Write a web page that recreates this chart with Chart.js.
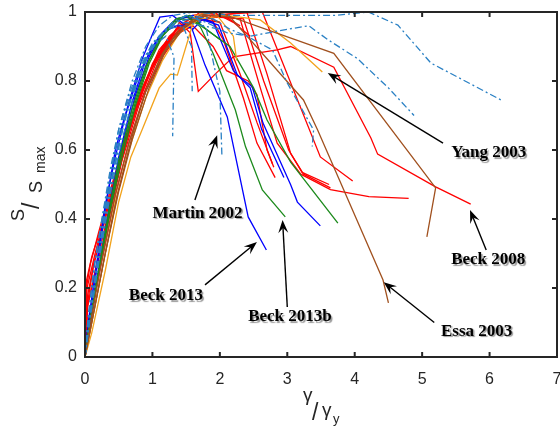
<!DOCTYPE html>
<html>
<head>
<meta charset="utf-8">
<script src="https://cdn.jsdelivr.net/npm/chart.js@4.4.1/dist/chart.umd.min.js"></script>
<style>
  html, body { margin: 0; padding: 0; background: #fff; }
  #wrap { width: 560px; height: 427px; }
</style>
</head>
<body>
<div id="wrap"><canvas id="shear" width="560" height="427"></canvas></div>
<script>
// Normalised shear strength S/Smax against normalised deformation γ/γy
const xTicks = [0, 1, 2, 3, 4, 5, 6, 7];
const yTicks = [0, 0.2, 0.4, 0.6, 0.8, 1];

// test curves, [γ/γy, S/Smax]
const beck2013 = [[0,0],[0.05,0.08],[0.15,0.22],[0.3,0.43],[0.45,0.6],[0.52,0.65],[0.7,0.77],[0.84,0.86],[1.01,0.94],[1.11,0.985],[1.3,0.99],[1.5,0.96],[1.58,0.955],[1.78,0.846],[2.11,0.696],[2.42,0.406],[2.69,0.31]];
const blueB = [[0,0],[0.06,0.07],[0.2,0.25],[0.35,0.42],[0.5,0.58],[0.7,0.74],[0.9,0.86],[1.1,0.93],[1.3,0.97],[1.5,0.985],[1.7,0.98],[1.98,0.962],[2.26,0.817],[2.48,0.783],[2.64,0.678],[3.05,0.499],[3.15,0.449],[3.49,0.38]];
const blueC = [[0,0],[0.07,0.08],[0.22,0.27],[0.38,0.45],[0.55,0.61],[0.75,0.76],[0.95,0.87],[1.15,0.94],[1.35,0.98],[1.6,0.99],[1.9,0.97],[2.2,0.83],[2.45,0.78],[2.62,0.66],[2.95,0.52]];
const blueD = [[0,0],[0.04,0.09],[0.15,0.24],[0.3,0.44],[0.45,0.58],[0.6,0.7],[0.8,0.82],[1.0,0.9],[1.15,0.94],[1.35,0.96],[1.5,0.96],[1.6,0.95],[1.75,0.98]];

const ddTop = [[0,0],[0.05,0.1],[0.2,0.3],[0.35,0.5],[0.5,0.66],[0.7,0.8],[0.9,0.9],[1.1,0.96],[1.3,0.99],[1.6,1.0],[2.2,0.99],[3.2,0.99],[3.7,0.99],[4.1,0.998],[4.2,1.0],[4.64,0.962],[5.13,0.852],[6.17,0.745]];
const ddB = [[0,0],[0.05,0.09],[0.2,0.28],[0.3,0.42],[0.45,0.56],[0.6,0.7],[0.8,0.83],[1.0,0.91],[1.3,0.97],[1.5,0.99],[1.8,0.97],[2.1,0.94],[2.45,0.93],[3.0,0.95],[3.32,0.96],[3.6,0.92],[4.04,0.865],[4.5,0.78],[4.88,0.7]];
const ddC = [[0,0],[0.08,0.12],[0.25,0.33],[0.4,0.5],[0.55,0.63],[0.75,0.78],[0.95,0.88],[1.2,0.95],[1.5,0.99],[1.9,0.98],[2.15,0.95],[2.4,0.93],[2.78,0.89],[3.0,0.794],[3.39,0.658],[3.37,0.61]];
const martin2002 = [[0,0],[0.06,0.1],[0.2,0.3],[0.35,0.48],[0.5,0.62],[0.7,0.76],[0.9,0.87],[1.1,0.93],[1.35,0.97],[1.65,0.985],[1.8,0.95],[1.93,0.83],[2.0,0.77],[2.03,0.585]];
const ddE = [[0,0],[0.05,0.12],[0.15,0.28],[0.3,0.45],[0.45,0.6],[0.6,0.72],[0.8,0.83],[1.0,0.9],[1.2,0.93],[1.32,0.87],[1.3,0.64]];
const ddF = [[0,0],[0.07,0.11],[0.22,0.3],[0.4,0.52],[0.6,0.7],[0.8,0.82],[1.0,0.9],[1.2,0.95],[1.45,0.96],[1.58,0.9],[1.59,0.77]];
const ddG = [[0,0],[0.04,0.1],[0.12,0.24],[0.25,0.4],[0.38,0.55],[0.5,0.66],[0.65,0.76],[0.85,0.86],[1.05,0.92],[1.3,0.96],[1.5,0.97],[1.75,0.96],[2.0,0.95]];

const beck2008 = [[0,0],[0.04,0.18],[0.12,0.26],[0.3,0.4],[0.5,0.55],[0.7,0.68],[0.9,0.8],[1.1,0.88],[1.3,0.93],[1.4,0.97],[1.56,0.94],[1.68,0.77],[1.93,0.82],[2.2,0.87],[2.85,0.89],[3.05,0.9],[3.69,0.84],[4.24,0.635],[4.34,0.588],[5.2,0.493],[5.72,0.443]];
const redB = [[0,0],[0.05,0.1],[0.2,0.25],[0.4,0.45],[0.6,0.62],[0.85,0.78],[1.1,0.89],[1.4,0.96],[1.8,0.99],[2.2,0.995],[2.63,1.0],[3.49,0.58],[3.97,0.51]];
const redC = [[0,0],[0.03,0.2],[0.15,0.3],[0.35,0.45],[0.55,0.6],[0.8,0.75],[1.05,0.86],[1.3,0.93],[1.6,0.97],[2.0,0.99],[2.4,1.0],[2.7,0.82],[3.05,0.59],[3.24,0.53],[3.64,0.49]];
const redD = [[0,0],[0.04,0.16],[0.13,0.27],[0.32,0.42],[0.52,0.58],[0.78,0.74],[1.02,0.85],[1.28,0.92],[1.58,0.97],[1.95,0.985],[2.35,0.98],[2.65,0.8],[3.02,0.6],[3.22,0.535],[3.62,0.5]];
const redE = [[0,0],[0.06,0.1],[0.25,0.3],[0.45,0.5],[0.65,0.65],[0.9,0.8],[1.15,0.9],[1.45,0.96],[1.8,0.99],[2.3,0.98],[2.6,0.78],[2.85,0.62],[3.2,0.53],[3.64,0.485],[4.21,0.465],[4.8,0.46]];
const redF = [[0,0],[0.04,0.15],[0.15,0.25],[0.3,0.38],[0.5,0.55],[0.75,0.72],[1.0,0.85],[1.25,0.93],[1.55,0.98],[1.85,0.99],[2.05,0.92],[2.35,0.75],[2.55,0.62],[2.82,0.52]];
const redG = [[0,0],[0.07,0.1],[0.25,0.28],[0.45,0.47],[0.65,0.62],[0.9,0.77],[1.15,0.87],[1.4,0.94],[1.7,0.98],[2.0,0.97],[2.3,0.82],[2.55,0.68],[2.78,0.56]];
const redH = [[0,0],[0.02,0.22],[0.1,0.29],[0.28,0.4],[0.48,0.54],[0.72,0.7],[0.98,0.83],[1.2,0.91],[1.3,0.93],[1.6,0.96],[1.9,0.9],[2.1,0.83],[2.42,0.8],[2.55,0.76],[2.7,0.6],[2.8,0.55]];
const redI = [[0,0],[0.02,0.2],[0.08,0.27],[0.2,0.36],[0.4,0.5],[0.6,0.63],[0.85,0.78],[1.1,0.88],[1.35,0.95],[1.6,0.99],[1.9,1.0],[2.2,0.97],[2.45,0.93]];
const redJ = [[0,0],[0.03,0.14],[0.15,0.24],[0.35,0.4],[0.55,0.57],[0.8,0.73],[1.05,0.85],[1.3,0.93],[1.55,0.97],[1.7,1.0],[2.05,0.99],[2.3,0.96]];

const beck2013b = [[0,0],[0.05,0.08],[0.2,0.25],[0.35,0.42],[0.5,0.57],[0.7,0.72],[0.9,0.84],[1.1,0.92],[1.3,0.97],[1.5,0.99],[1.71,0.957],[1.9,0.88],[2.23,0.716],[2.38,0.61],[2.63,0.484],[2.97,0.406]];
const greenB = [[0,0],[0.06,0.09],[0.22,0.27],[0.38,0.44],[0.55,0.6],[0.75,0.74],[0.95,0.86],[1.15,0.93],[1.4,0.98],[1.6,0.977],[2.15,0.9],[2.5,0.78],[2.7,0.687],[3.05,0.565],[3.75,0.388]];
const greenC = [[0,0],[0.05,0.07],[0.2,0.24],[0.38,0.43],[0.55,0.58],[0.75,0.73],[0.95,0.85],[1.15,0.93],[1.35,0.98],[1.55,0.99],[1.8,0.95],[2.0,0.92]];

const yang2003 = [[0,0],[0.08,0.08],[0.25,0.25],[0.45,0.45],[0.65,0.6],[0.9,0.75],[1.15,0.86],[1.4,0.94],[1.7,0.98],[2.1,0.99],[2.6,0.977],[3.05,0.91],[3.52,0.826]];
const orangeB = [[0,0],[0.1,0.07],[0.3,0.25],[0.5,0.45],[0.68,0.58],[0.85,0.66],[1.1,0.78],[1.27,0.82],[1.37,0.817],[1.56,0.94],[1.63,0.99],[1.9,1.0],[2.0,0.98],[2.2,0.93],[2.25,0.86]];

const essa2003 = [[0,0],[0.08,0.08],[0.3,0.3],[0.5,0.48],[0.7,0.63],[0.95,0.78],[1.2,0.89],[1.5,0.96],[1.8,0.99],[2.15,0.986],[3.24,0.745],[3.45,0.658],[4.42,0.223],[4.5,0.157]];
const brownB = [[0,0],[0.07,0.09],[0.25,0.28],[0.45,0.47],[0.65,0.62],[0.9,0.77],[1.15,0.88],[1.4,0.95],[1.7,0.99],[1.96,1.0],[3.69,0.88],[5.2,0.49],[5.07,0.348]];
const brownC = [[0,0],[0.08,0.08],[0.28,0.28],[0.48,0.47],[0.7,0.64],[0.9,0.77],[1.1,0.86],[1.3,0.92],[1.5,0.96],[1.75,0.99],[2.0,0.97]];

// callouts: label, label anchor (left, middle), arrow tail, arrow tip
const callouts = [
  ['Yang 2003',   [5.43, 0.591], [5.31, 0.62],  [3.6, 0.823]],
  ['Martin 2002', [1.0, 0.417],  [1.63, 0.455], [1.96, 0.643]],
  ['Beck 2013',   [0.65, 0.177], [1.78, 0.209], [2.55, 0.333]],
  ['Beck 2013b',  [2.42, 0.116], [3.0, 0.145],  [2.93, 0.397]],
  ['Beck 2008',   [5.43, 0.281], [5.95, 0.31],  [5.71, 0.426]],
  ['Essa 2003',   [5.28, 0.075], [5.18, 0.10],  [4.43, 0.217]]
];

const BLUE = '#0000ff', DD = '#2a80c4', RED = '#ff0000', GREEN = '#1c8a1c', ORANGE = '#f2a31c', BROWN = '#a0501e';
const DASHDOT = [7, 3, 2, 3];

const series = [
  [ddTop, DD, DASHDOT], [ddB, DD, DASHDOT], [ddC, DD, DASHDOT], [martin2002, DD, DASHDOT],
  [ddE, DD, DASHDOT], [ddF, DD, DASHDOT], [ddG, DD, DASHDOT],
  [essa2003, BROWN], [brownB, BROWN], [brownC, BROWN],
  [yang2003, ORANGE], [orangeB, ORANGE],
  [beck2013b, GREEN], [greenB, GREEN], [greenC, GREEN],
  [beck2013, BLUE], [blueB, BLUE], [blueC, BLUE], [blueD, BLUE],
  [beck2008, RED], [redB, RED], [redC, RED], [redD, RED], [redE, RED],
  [redF, RED], [redG, RED], [redH, RED], [redI, RED], [redJ, RED]
];

const AXIS = '#262626';

const frame = {
  id: 'frame',
  afterDatasetsDraw(chart) {
    const { ctx, chartArea: a, scales: { x, y } } = chart;
    ctx.save();
    ctx.strokeStyle = AXIS;
    ctx.lineWidth = 2;
    ctx.beginPath();
    xTicks.forEach(v => {
      const px = x.getPixelForValue(v);
      ctx.moveTo(px, a.bottom); ctx.lineTo(px, a.bottom - 5);
      ctx.moveTo(px, a.top); ctx.lineTo(px, a.top + 5);
    });
    yTicks.forEach(v => {
      const py = y.getPixelForValue(v);
      ctx.moveTo(a.left, py); ctx.lineTo(a.left + 5, py);
      ctx.moveTo(a.right, py); ctx.lineTo(a.right - 5, py);
    });
    ctx.stroke();
    ctx.strokeRect(a.left, a.top, a.right - a.left, a.bottom - a.top);

    // callouts
    callouts.forEach(([text, at, tail, tip]) => {
      const tx = x.getPixelForValue(tail[0]), ty = y.getPixelForValue(tail[1]);
      const hx = x.getPixelForValue(tip[0]), hy = y.getPixelForValue(tip[1]);
      const ang = Math.atan2(hy - ty, hx - tx);
      const L = 13, W = 5;
      const c = Math.cos(ang), s = Math.sin(ang);
      ctx.strokeStyle = '#000';
      ctx.lineWidth = 1.4;
      ctx.beginPath();
      ctx.moveTo(tx, ty);
      ctx.lineTo(hx - c * 7, hy - s * 7);
      ctx.stroke();
      ctx.fillStyle = '#000';
      ctx.beginPath();
      ctx.moveTo(hx, hy);
      ctx.lineTo(hx - c * L - s * W, hy - s * L + c * W);
      ctx.lineTo(hx - c * 8, hy - s * 8);
      ctx.lineTo(hx - c * L + s * W, hy - s * L - c * W);
      ctx.closePath();
      ctx.fill();

      ctx.save();
      ctx.font = 'bold 17px "Liberation Serif", serif';
      ctx.textBaseline = 'middle';
      ctx.textAlign = 'left';
      ctx.shadowColor = 'rgba(0,0,0,0.4)';
      ctx.shadowOffsetX = 1.5;
      ctx.shadowOffsetY = 1.5;
      ctx.shadowBlur = 1;
      ctx.fillStyle = '#000';
      ctx.fillText(text, x.getPixelForValue(at[0]), y.getPixelForValue(at[1]));
      ctx.restore();
    });

    // axis titles, written as stacked fractions
    ctx.fillStyle = AXIS;
    ctx.textAlign = 'left';
    ctx.textBaseline = 'alphabetic';
    ctx.font = '19px "Liberation Sans", Arial, sans-serif';
    ctx.fillText('γ', 303, 401);
    ctx.font = '23px "Liberation Sans", Arial, sans-serif';
    ctx.fillText('/', 312, 420);
    ctx.font = '19px "Liberation Sans", Arial, sans-serif';
    ctx.fillText('γ', 322, 416);
    ctx.font = '13px "Liberation Sans", Arial, sans-serif';
    ctx.fillText('y', 333, 423);

    ctx.translate(0, 0);
    ctx.rotate(-Math.PI / 2);
    ctx.font = '18px "Liberation Sans", Arial, sans-serif';
    ctx.fillText('S', -221, 24);
    ctx.font = '23px "Liberation Sans", Arial, sans-serif';
    ctx.fillText('/', -209, 39);
    ctx.font = '18px "Liberation Sans", Arial, sans-serif';
    ctx.fillText('S', -193, 42);
    ctx.font = '14px "Liberation Sans", Arial, sans-serif';
    ctx.fillText('max', -173, 45);
    ctx.restore();
  }
};

new Chart(document.getElementById('shear'), {
  type: 'scatter',
  data: {
    datasets: series.map(([pts, color, dash]) => ({
      data: pts.map(([x, y]) => ({ x, y })),
      showLine: true,
      borderColor: color,
      borderWidth: 1.3,
      borderDash: dash || [],
      pointRadius: 0,
      tension: 0,
      fill: false
    }))
  },
  options: {
    responsive: false,
    animation: false,
    devicePixelRatio: 1,
    layout: { padding: { left: 0, right: 3, top: 12, bottom: 0 } },
    plugins: { legend: { display: false }, tooltip: { enabled: false } },
    scales: {
      x: {
        type: 'linear', min: 0, max: 7,
        grid: { display: false, drawTicks: false },
        border: { display: false },
        afterFit(s) { s.height = 70; s.paddingLeft = 0; s.paddingRight = 0; },
        afterBuildTicks(s) { s.ticks = xTicks.map(v => ({ value: v })); },
        ticks: { padding: 13, color: AXIS, font: { family: '"Liberation Sans", Arial, sans-serif', size: 16 } }
      },
      y: {
        type: 'linear', min: 0, max: 1,
        grid: { display: false, drawTicks: false },
        border: { display: false },
        afterFit(s) { s.width = 85; s.paddingTop = 0; s.paddingBottom = 0; },
        afterBuildTicks(s) { s.ticks = yTicks.map(v => ({ value: v })); },
        ticks: { padding: 8, color: AXIS, font: { family: '"Liberation Sans", Arial, sans-serif', size: 16 },
                 callback: v => String(v) }
      }
    }
  },
  plugins: [frame]
});
</script>
</body>
</html>
